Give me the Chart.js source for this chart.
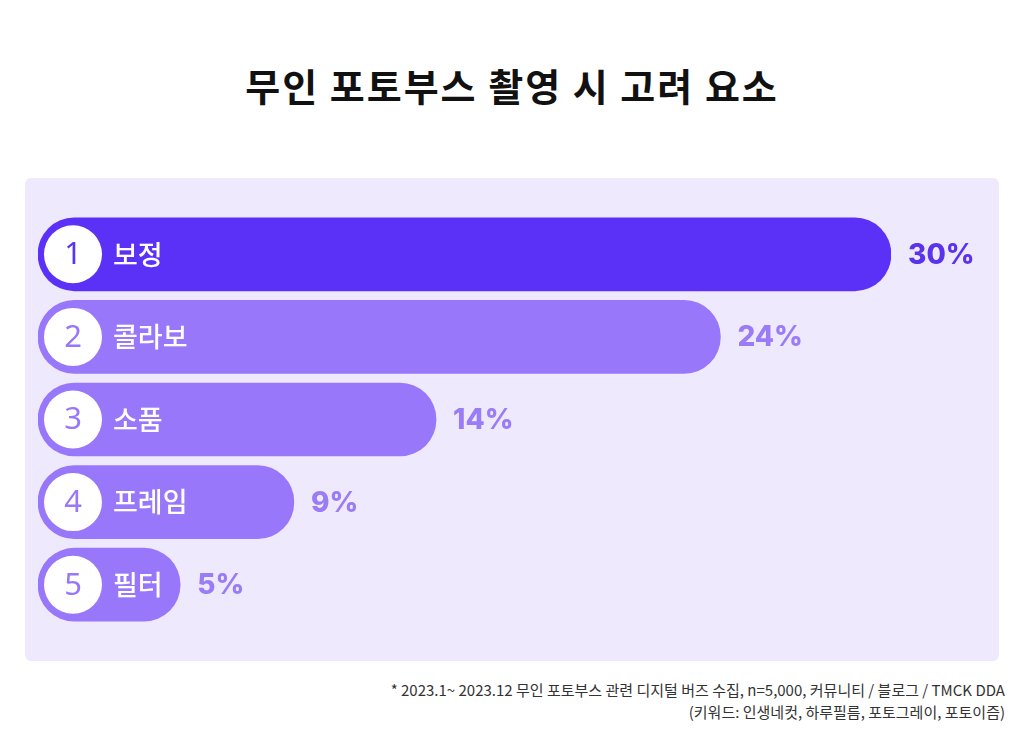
<!DOCTYPE html>
<html>
<head>
<meta charset="utf-8">
<script src="https://cdn.jsdelivr.net/npm/chart.js@4"></script>
<style>
  body { margin: 0; background: #fff; width: 1024px; height: 750px; position: relative; overflow: hidden; }
  #title { position: absolute; top: 57px; left: 0; width: 1024px; text-align: center;
           font-family: "Noto Sans CJK KR", sans-serif; font-weight: 700; font-size: 38px; color: #111; letter-spacing: 2px; }
  #panel { position: absolute; left: 25px; top: 178px; width: 974px; height: 483px; background: #EEE9FD; border-radius: 6px; }
  #note { position: absolute; right: 19px; top: 679px; text-align: right;
          font-family: "Noto Sans CJK KR", sans-serif; font-size: 15px; line-height: 22px; color: #333; letter-spacing: 0px; }
</style>
</head>
<body>
<div id="title">무인 포토부스 촬영 시 고려 요소</div>
<div id="panel"><canvas id="bar-chart"></canvas></div>
<div id="note">* 2023.1~ 2023.12 무인 포토부스 관련 디지털 버즈 수집, n=5,000, 커뮤니티 / 블로그 / TMCK DDA<br>(키워드: 인생네컷, 하루필름, 포토그레이, 포토이즘)</div>
<script>
const categories = ['보정', '콜라보', '소품', '프레임', '필터'];
const ranks = ['1', '2', '3', '4', '5'];
const shares = [30, 24, 14, 9, 5];
const valueLabels = ['30%', '24%', '14%', '9%', '5%'];

const barColors = ['#5B31F8', '#9877FA', '#9877FA', '#9877FA', '#9877FA'];
const textColors = ['#5B33EC', '#9A7CF6', '#9A7CF6', '#9A7CF6', '#9A7CF6'];

const barDecor = {
    id: 'barDecor',
    afterDatasetsDraw(chart) {
        const c = chart.ctx;
        const bars = chart.getDatasetMeta(0).data;
        bars.forEach((bar, i) => {
            const left = bar.base;
            const y = bar.y;
            c.save();
            // white circle with rank
            c.beginPath();
            c.arc(left + 35, y, 29, 0, Math.PI * 2);
            c.fillStyle = '#fff';
            c.fill();
            c.fillStyle = barColors[i];
            c.font = '400 31px "Noto Sans", sans-serif';
            c.textAlign = 'center';
            c.textBaseline = 'middle';
            c.fillText(ranks[i], left + 35, y + 1);
            // category label
            c.fillStyle = '#fff';
            c.textAlign = 'left';
            c.font = '500 27px "Noto Sans CJK KR", sans-serif';
            c.fillText(categories[i], left + 75, y);
            // value label
            c.fillStyle = textColors[i];
            c.font = '800 28px Inter, sans-serif';
            c.fillText(valueLabels[i], bar.x + 17, y + 1);
            c.restore();
        });
    }
};

const ctx = document.getElementById('bar-chart');

const bar_chart = new Chart(ctx, {
    type: 'bar',
    data: {
        labels: categories,
        datasets: [{
            data: shares,
            backgroundColor: barColors,
            borderRadius: 37,
            borderSkipped: false,
            barThickness: 73
        }]
    },
    options: {
        indexAxis: 'y',
        responsive: true,
        maintainAspectRatio: false,
        animation: false,
        layout: {
            padding: { left: 13, right: 108, top: 35, bottom: 35 }
        },
        plugins: {
            legend: { display: false },
            tooltip: { enabled: false }
        },
        scales: {
            x: { min: 0, max: 30, display: false },
            y: { display: false }
        }
    },
    plugins: [barDecor]
});
</script>
</body>
</html>
